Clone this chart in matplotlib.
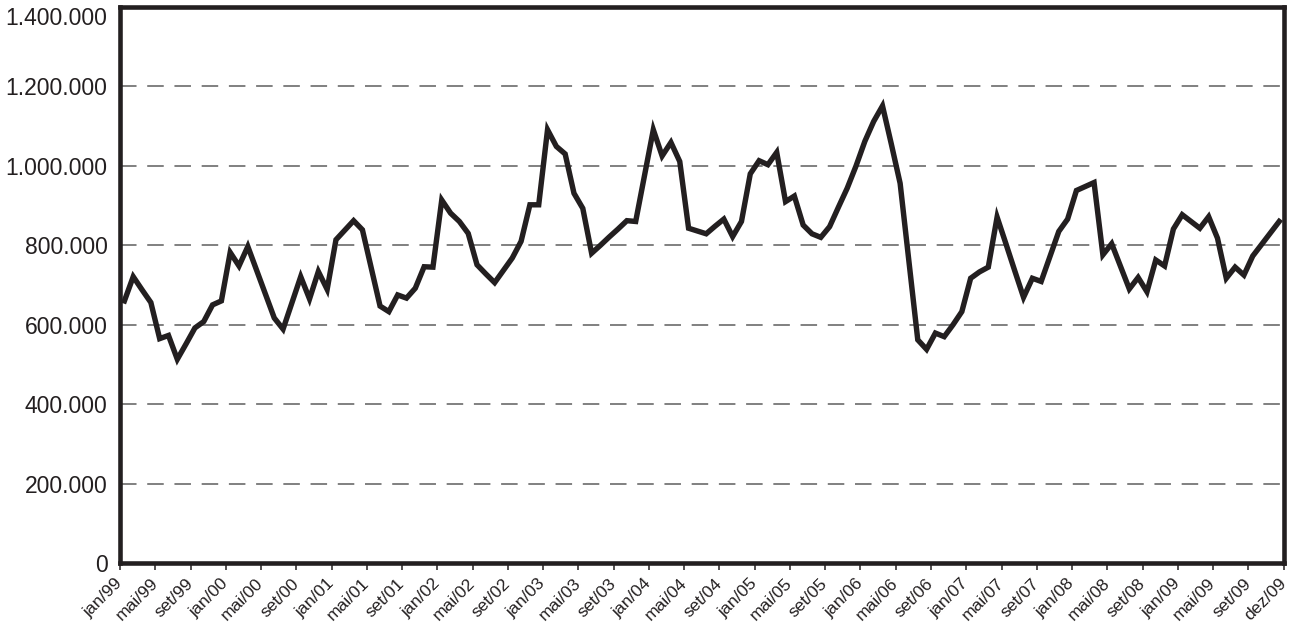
import matplotlib
matplotlib.use("Agg")
import matplotlib.pyplot as plt
from matplotlib.ticker import FuncFormatter, FixedLocator

plt.rcParams['font.family'] = ['Liberation Sans', 'DejaVu Sans']

# monthly values, jan/99 .. dez/09 (thousands)
y1999 = [660, 721, 688, 656, 565, 573, 513, 552, 592, 608, 650, 660]
y2000 = [782, 748, 797, 737, 677, 617, 589, 655, 721, 665, 734, 689]
y2001 = [814, 838, 862, 839, 743, 647, 633, 675, 667, 692, 746, 745]
y2002 = [914, 881, 860, 830, 751, 728, 706, 737, 768, 810, 902, 902]
y2003 = [1091, 1049, 1030, 931, 893, 780, 800, 821, 841, 862, 860, 975]
y2004 = [1091, 1025, 1059, 1011, 843, 836, 829, 848, 866, 822, 860, 980]
y2005 = [1013, 1003, 1034, 910, 924, 851, 829, 820, 847, 896, 944, 1000]
y2006 = [1062, 1112, 1151, 1055, 956, 760, 562, 538, 579, 570, 600, 633]
y2007 = [717, 733, 745, 871, 804, 736, 669, 717, 709, 772, 835, 866]
y2008 = [938, 948, 958, 776, 804, 747, 690, 719, 683, 763, 748, 841]
y2009 = [877, 860, 843, 872, 818, 717, 745, 725, 773, 802, 831, 860]

years = ["99", "00", "01", "02", "03", "04", "05", "06", "07", "08", "09"]
tick_months = ["jan", "mai", "set"]
tick_labels = [f"{m}/{yy}" for yy in years for m in tick_months] + ["dez/09"]

values = [v * 1000 for yr in (y1999, y2000, y2001, y2002, y2003, y2004,
                              y2005, y2006, y2007, y2008, y2009) for v in yr]
months = list(range(len(values)))

dark = "#231f20"

fig = plt.figure(figsize=(12.89, 6.26), dpi=100)
ax = fig.add_axes([0.0931, 0.1006, 0.9027, 0.8882])

for g in range(200000, 1400000, 200000):
    ax.axhline(g, color="#808080", lw=1.4, ls=(0, (8.5, 5.5)), zorder=1)

ax.plot(months, values, color=dark, lw=3.9, solid_joinstyle="miter", zorder=3)

ax.set_xlim(-0.5, len(values) - 0.5)
ax.set_ylim(0, 1400000)
ax.set_yticks(range(0, 1400001, 200000))
ax.yaxis.set_major_formatter(FuncFormatter(lambda v, p: f"{v:,.0f}".replace(",", ".")))
ax.tick_params(axis="y", length=0, pad=9, labelsize=16.5, labelcolor=dark)
# top label sits inside the frame, as in the original
ax.get_yticklabels()[-1].set_va("top")

ax.xaxis.set_major_locator(FixedLocator([-0.5 + 4 * k for k in range(len(tick_labels))]))
ax.set_xticklabels(tick_labels, rotation=45, ha="right", va="center",
                   rotation_mode="anchor", fontsize=12.5, color=dark)
ax.tick_params(axis="x", length=5, width=1.1, color=dark, pad=8)

for s in ax.spines.values():
    s.set_linewidth(3.3)
    s.set_color(dark)

fig.savefig("out.png", dpi=100, facecolor="white")
